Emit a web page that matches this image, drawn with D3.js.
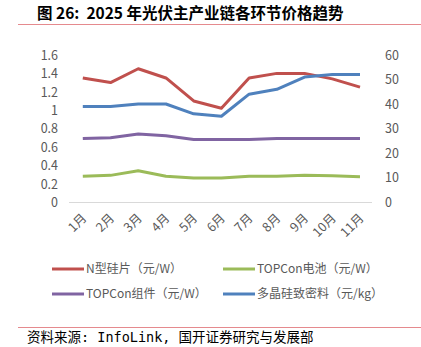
<!DOCTYPE html>
<html lang="zh">
<head>
<meta charset="utf-8">
<script src="https://cdn.jsdelivr.net/npm/d3@7"></script>
<style>
  body { margin: 0; background: #fff; }
  svg text { font-family: "Noto Sans CJK SC", "Noto Sans", sans-serif; }
  .tick text { fill: #595959; font-size: 12.5px; }
</style>
</head>
<body>
<script>
// data
var months = ["1月","2月","3月","4月","5月","6月","7月","8月","9月","10月","11月"];
var wafer   = [1.35, 1.30, 1.45, 1.35, 1.10, 1.02, 1.35, 1.40, 1.40, 1.34, 1.25];
var cell    = [0.28, 0.29, 0.34, 0.28, 0.26, 0.26, 0.28, 0.28, 0.29, 0.285, 0.275];
var module_ = [0.69, 0.70, 0.74, 0.72, 0.68, 0.68, 0.68, 0.69, 0.69, 0.69, 0.69];
var poly    = [39, 39, 40, 40, 36, 35, 44, 46, 51, 52, 52];
var leftTicks  = [0, 0.2, 0.4, 0.6, 0.8, 1, 1.2, 1.4, 1.6];
var rightTicks = [0, 10, 20, 30, 40, 50, 60];

var w = 421, h = 347;
var svg = d3.select("body").append("svg").attr("width", w).attr("height", h);

// title + rules
svg.append("text").attr("x", 37).attr("y", 19)
  .attr("font-size", 15.5).attr("font-weight", "bold").attr("fill", "#000")
  .style("white-space", "pre")
  .text("图 26:  2025 年光伏主产业链各环节价格趋势");
svg.append("line").attr("x1", 18).attr("x2", 421).attr("y1", 24.5).attr("y2", 24.5)
  .attr("stroke", "#e58a8e").attr("stroke-width", 1.2);
svg.append("line").attr("x1", 18).attr("x2", 421).attr("y1", 327.5).attr("y2", 327.5)
  .attr("stroke", "#e58a8e").attr("stroke-width", 1.2);
svg.append("text").attr("x", 27).attr("y", 342)
  .attr("font-size", 13.5).attr("fill", "#000")
  .style("font-family", "'DejaVu Sans Mono', 'Noto Sans CJK SC', monospace")
  .style("white-space", "pre")
  .text("资料来源: InfoLink, 国开证券研究与发展部");

var x = d3.scalePoint().domain(months).range([82.8, 360]);
var yL = d3.scaleLinear().domain([0, 1.6]).range([202, 55]);
var yR = d3.scaleLinear().domain([0, 60]).range([202, 55]);

// axes
var gl = svg.append("g").attr("transform", "translate(58,0)")
  .call(d3.axisLeft(yL).tickValues(leftTicks).tickSize(0).tickPadding(0).tickFormat(d3.format("")));
gl.select(".domain").remove();
gl.selectAll("text").attr("dy", "0.35em");

var gr = svg.append("g").attr("transform", "translate(385,0)")
  .call(d3.axisRight(yR).tickValues(rightTicks).tickSize(0).tickPadding(0));
gr.select(".domain").remove();

svg.append("line").attr("x1", 69).attr("x2", 372).attr("y1", 202.5).attr("y2", 202.5)
  .attr("stroke", "#d9d9d9").attr("stroke-width", 1);

var gx = svg.append("g").attr("transform", "translate(0,202)")
  .call(d3.axisBottom(x).tickSize(0).tickPadding(0));
gx.select(".domain").remove();
gx.selectAll("text")
  .attr("font-size", 11)
  .attr("fill", "#6f6f6f")
  .attr("text-anchor", "end")
  .attr("dy", 0)
  .attr("transform", "translate(4,17) rotate(-45)");

// lines
var series = [
  { name: "N型硅片（元/W）", values: wafer, scale: yL, color: "#c0504d" },
  { name: "TOPCon电池（元/W）", values: cell, scale: yL, color: "#9bbb59" },
  { name: "TOPCon组件（元/W）", values: module_, scale: yL, color: "#8064a2" },
  { name: "多晶硅致密料（元/kg）", values: poly, scale: yR, color: "#4f81bd" }
];

series.forEach(function(s) {
  var line = d3.line()
    .x(function(d, i) { return x(months[i]); })
    .y(function(d) { return s.scale(d); });
  svg.append("path").datum(s.values)
    .attr("d", line)
    .attr("fill", "none")
    .attr("stroke", s.color)
    .attr("stroke-width", 3)
    .attr("stroke-linejoin", "round");
});

// legend
var legPos = [[52, 269], [223, 269], [52, 294], [223, 294]];
series.forEach(function(s, i) {
  var p = legPos[i];
  var g = svg.append("g").attr("transform", "translate(" + p[0] + "," + p[1] + ")");
  g.append("line").attr("x1", 0).attr("x2", 32).attr("y1", 0).attr("y2", 0)
    .attr("stroke", s.color).attr("stroke-width", 3);
  g.append("text").attr("x", 34).attr("y", 0).attr("dy", "0.35em")
    .attr("font-size", 12).attr("fill", "#595959").text(s.name);
});
</script>
</body>
</html>
